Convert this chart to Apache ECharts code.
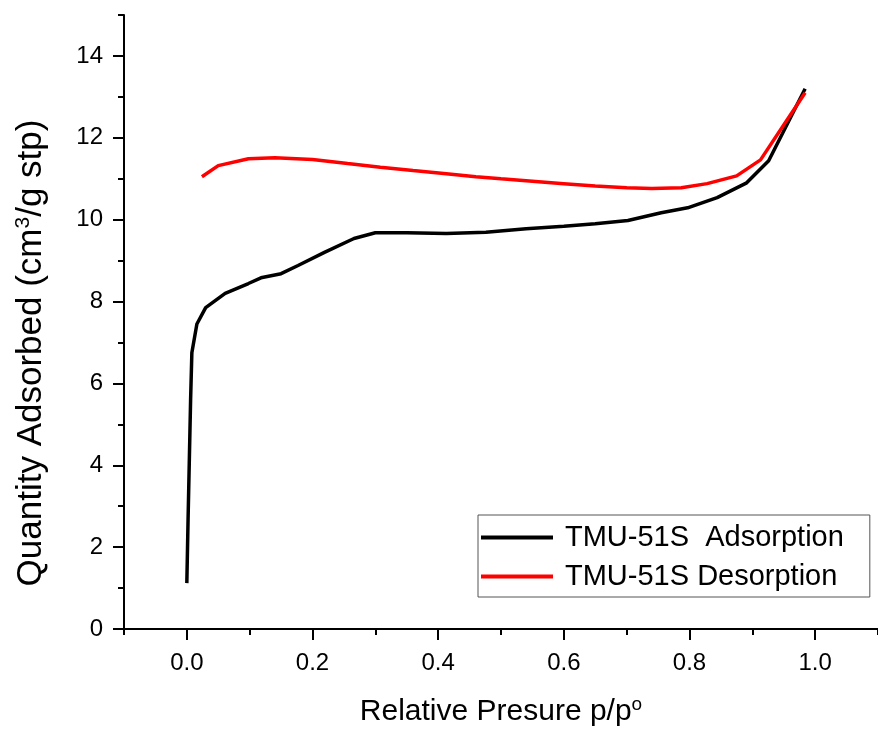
<!DOCTYPE html>
<html>
<head>
<meta charset="utf-8">
<script src="https://cdn.jsdelivr.net/npm/echarts@6/dist/echarts.min.js"></script>
<style>
  html, body { margin: 0; padding: 0; background: #fff; }
  #chart { width: 878px; height: 733px; }
</style>
</head>
<body>
<div id="chart"></div>
<script>
// isotherm readings, relative pressure p/p0 vs quantity adsorbed
const adsP = [0.0, 0.002, 0.006, 0.008, 0.016, 0.03, 0.061, 0.098, 0.118, 0.15, 0.177, 0.219, 0.266, 0.3, 0.35, 0.413, 0.476, 0.54, 0.6, 0.65, 0.702, 0.755, 0.797, 0.844, 0.891, 0.926, 0.984];
const adsQ = [1.12, 2.7, 5.6, 6.75, 7.45, 7.85, 8.2, 8.44, 8.58, 8.68, 8.88, 9.2, 9.54, 9.68, 9.68, 9.66, 9.69, 9.78, 9.84, 9.9, 9.98, 10.17, 10.29, 10.54, 10.9, 11.44, 13.2];
const desP = [0.024, 0.05, 0.098, 0.14, 0.2, 0.256, 0.308, 0.36, 0.413, 0.46, 0.5, 0.55, 0.6, 0.65, 0.7, 0.74, 0.787, 0.828, 0.875, 0.913, 0.984];
const desQ = [11.05, 11.32, 11.49, 11.51, 11.47, 11.37, 11.28, 11.2, 11.12, 11.05, 11.0, 10.94, 10.88, 10.82, 10.78, 10.76, 10.78, 10.88, 11.07, 11.46, 13.1];

const seriesNames = ['TMU-51S  Adsorption', 'TMU-51S Desorption'];

// tick positions
const xMajorTicks = [0, 0.2, 0.4, 0.6, 0.8, 1.0];
const xMinorTicks = [-0.1, 0.1, 0.3, 0.5, 0.7, 0.9, 1.1];
const yMajorTicks = [0, 2, 4, 6, 8, 10, 12, 14];
const yMinorTicks = [1, 3, 5, 7, 9, 11, 13, 15];

const zip = (xs, ys) => xs.map((x, i) => [x, ys[i]]);

const chart = echarts.init(document.getElementById('chart'));
const font = '"Liberation Sans", Arial, sans-serif';
const black = '#000';

const lineSt = { color: black, width: 2 };

const majorAxis = (extra) => ({
    type: 'value',
    axisLine: { show: true, onZero: false, lineStyle: lineSt },
    axisTick: { show: true, inside: false, length: 11, lineStyle: lineSt },
    splitLine: { show: false },
    nameLocation: 'middle',
    ...extra,
});

const minorAxis = (extra) => ({
    type: 'value',
    axisLine: { show: false, onZero: false },
    axisTick: { show: true, inside: false, length: 6, lineStyle: lineSt },
    axisLabel: { show: false },
    splitLine: { show: false },
    ...extra,
});

chart.setOption({
    animation: false,
    grid: { left: 124, right: -7, top: 15, bottom: 104 },
    legend: {
        left: 478,
        top: 515,
        orient: 'vertical',
        icon: 'rect',
        itemWidth: 72,
        itemHeight: 4,
        itemGap: 10,
        padding: [8, 26, 6, 3],
        borderColor: '#555',
        borderWidth: 1,
        textStyle: { color: black, fontFamily: font, fontSize: 29, padding: [0, 0, 0, 7] },
        data: seriesNames,
    },
    xAxis: [
        majorAxis({
            min: -0.1,
            max: 1.1,
            axisTick: { show: true, inside: false, length: 11, lineStyle: lineSt, customValues: xMajorTicks },
            axisLabel: {
                color: black, fontFamily: font, fontSize: 24, margin: 22,
                customValues: xMajorTicks,
                formatter: (v) => v.toFixed(1),
            },
            name: 'Relative Presure p/p{sup|o}',
            nameGap: 66,
            nameTextStyle: {
                color: black, fontFamily: font, fontSize: 30,
                rich: { sup: { fontSize: 19, padding: [0, 0, 14, 0], color: black, fontFamily: font } },
            },
        }),
        minorAxis({
            min: -0.1,
            max: 1.1,
            position: 'bottom',
            axisTick: { show: true, inside: false, length: 6, lineStyle: lineSt, customValues: xMinorTicks },
        }),
    ],
    yAxis: [
        majorAxis({
            min: 0,
            max: 15,
            axisTick: { show: true, inside: false, length: 11, lineStyle: lineSt, customValues: yMajorTicks },
            axisLabel: {
                color: black, fontFamily: font, fontSize: 24, margin: 21,
                customValues: yMajorTicks,
            },
            name: 'Quantity Adsorbed (cm{sup|3}/g stp)',
            nameGap: 74,
            nameTextStyle: {
                color: black, fontFamily: font, fontSize: 35,
                padding: [0, 62, 0, 0],
                rich: { sup: { fontSize: 21, padding: [0, 0, 16, 0], color: black, fontFamily: font } },
            },
        }),
        minorAxis({
            min: 0,
            max: 15,
            position: 'left',
            axisTick: { show: true, inside: false, length: 6, lineStyle: lineSt, customValues: yMinorTicks },
        }),
    ],
    series: [
        {
            name: seriesNames[0],
            type: 'line',
            showSymbol: false,
            symbol: 'none',
            data: zip(adsP, adsQ),
            itemStyle: { color: black },
            lineStyle: { color: black, width: 3.5 },
        },
        {
            name: seriesNames[1],
            type: 'line',
            showSymbol: false,
            symbol: 'none',
            data: zip(desP, desQ),
            itemStyle: { color: '#ff0000' },
            lineStyle: { color: '#ff0000', width: 3.5 },
        },
    ],
});
</script>
</body>
</html>
